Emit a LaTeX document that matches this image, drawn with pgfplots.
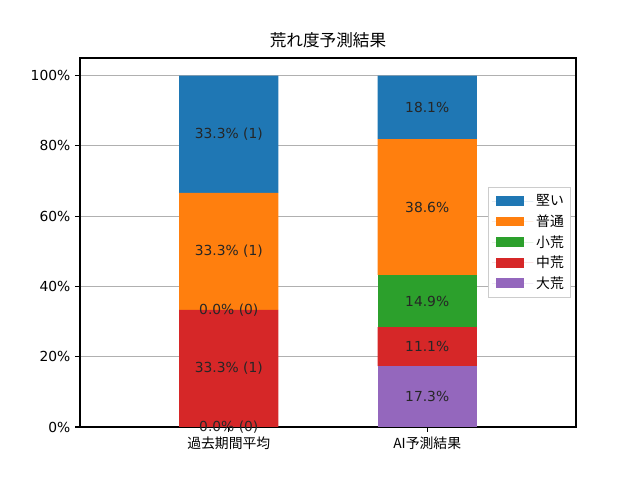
\documentclass[border=0pt]{standalone}
\usepackage{pgfplots}
\pgfplotsset{compat=1.18}
\usepackage{fontspec}
\setmainfont{DejaVu Sans}
\newfontfamily\cjk{Noto Sans CJK JP}
\definecolor{tabblue}{HTML}{1F77B4}
\definecolor{taborange}{HTML}{FF7F0E}
\definecolor{tabgreen}{HTML}{2CA02C}
\definecolor{tabred}{HTML}{D62728}
\definecolor{tabpurple}{HTML}{9467BD}
\pgfplotsset{common/.style={
  at={(0.8in,0.53in)}, anchor=south west,
  scale only axis, width=4.96in, height=3.69in,
  xmin=-0.75, xmax=1.75, ymin=0, ymax=105}}
\begin{document}
\begin{tikzpicture}
\path[use as bounding box] (0,0) rectangle (6.4in,4.8in);
\begin{axis}[
  common,
  ybar stacked, bar width=0.5,
  xtick={0,1}, xticklabels={{\cjk 過去期間平均},{\cjk AI予測結果}},
  ytick={0,20,40,60,80,100},
  yticklabel={\pgfmathprintnumber{\tick}\%},
  /pgf/number format/assume math mode=true,
  tick align=outside, tick pos=left,
  major tick length=3.5pt,
  ymajorgrids, grid style={color=black!31, line width=0.8pt},
  axis line style={line width=0.8pt},
  every tick/.style={black, line width=0.8pt},
  tick label style={font=\fontsize{10}{12}\selectfont},
  title={\cjk 荒れ度予測結果},
  title style={font=\fontsize{12}{14}\selectfont, yshift=-2pt},
  legend style={at={(rel axis cs:0.99,0.5)}, anchor=east, font=\fontsize{10}{12}\selectfont\cjk,
    draw=black!20, inner sep=3pt, row sep=1pt},
  legend cell align=left,
  reverse legend,
  legend image code/.code={\fill[#1, draw=none] (0cm,-0.12cm) rectangle (0.72cm,0.13cm);
    \path (-0.1cm,0) -- (0.95cm,0);},
]
\addplot[fill=tabpurple, draw=none] coordinates {(0,0) (1,17.3)};
\addlegendentry{大荒}
\addplot[fill=tabred, draw=none] coordinates {(0,33.3) (1,11.1)};
\addlegendentry{中荒}
\addplot[fill=tabgreen, draw=none] coordinates {(0,0) (1,14.9)};
\addlegendentry{小荒}
\addplot[fill=taborange, draw=none] coordinates {(0,33.3) (1,38.6)};
\addlegendentry{普通}
\addplot[fill=tabblue, draw=none] coordinates {(0,33.4) (1,18.1)};
\addlegendentry{堅い}
\end{axis}
\begin{axis}[common, hide axis]
\addplot[only marks, mark=none, point meta=explicit symbolic,
  nodes near coords,
  every node near coord/.append style={anchor=center, font=\fontsize{10}{12}\selectfont, text=black!85}]
  coordinates {
  (0,0) [0.0\% (0)]
  (0,16.65) [33.3\% (1)]
  (0,33.3) [0.0\% (0)]
  (0,49.95) [33.3\% (1)]
  (0,83.3) [33.3\% (1)]
  (1,8.65) [17.3\%]
  (1,22.85) [11.1\%]
  (1,35.85) [14.9\%]
  (1,62.6) [38.6\%]
  (1,90.95) [18.1\%]
  };
\end{axis}
\end{tikzpicture}
\end{document}
